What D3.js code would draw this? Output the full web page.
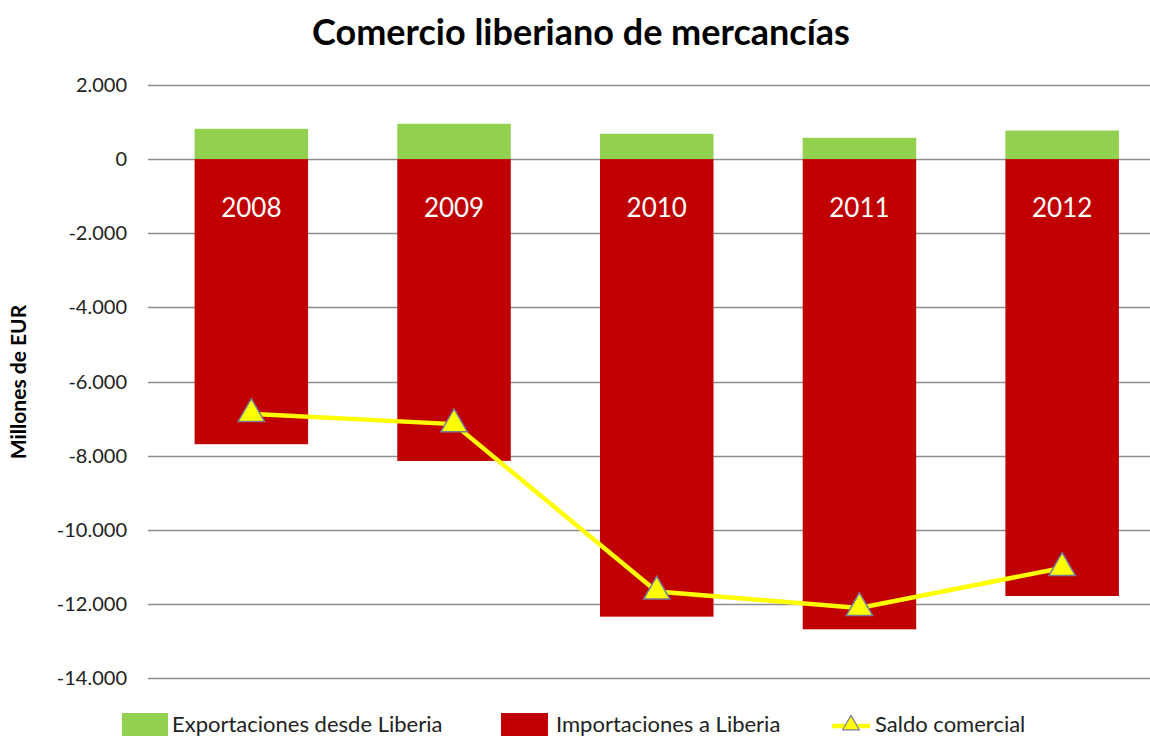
<!DOCTYPE html>
<html lang="es">
  <head>
    <meta charset="UTF-8" />
    <title>Comercio liberiano de mercancías</title>
    <style>
      body {
        margin: 0;
        background: #fff;
        font-family: Lato, "Open Sans", sans-serif;
      }
      .grid line {
        stroke: #8c8c8c;
        stroke-width: 1.5;
      }
      .ticks text {
        font-size: 20px;
        fill: #222;
        text-anchor: end;
      }
    </style>
  </head>
  <body>
    <svg width="1150" height="736"></svg>
  </body>
  <script src="https://cdn.jsdelivr.net/npm/d3@7"></script>
  <script>
    let years = ["2008", "2009", "2010", "2011", "2012"];
    let exportsEUR = [818, 953, 683, 575, 772];
    let importsEUR = [-7692, -8143, -12345, -12686, -11787];
    let balanceEUR = [-6874, -7150, -11665, -12110, -11030];
    let yTicks = [2000, 0, -2000, -4000, -6000, -8000, -10000, -12000, -14000];

    let svg = d3.select("svg");

    let x = d3.scaleBand()
      .domain(years)
      .range([150, 1163.5])
      .paddingInner(0.44)
      .paddingOuter(0.22);
    let y = d3.scaleLinear().domain([-14000, 2000]).range([678, 85]);

    let fmt = d3.formatLocale({
      decimal: ",",
      thousands: ".",
      grouping: [3],
      currency: ["", " €"],
      minus: "-",
    }).format(",d");

    // gridlines
    svg.append("g")
      .attr("class", "grid")
      .selectAll("line")
      .data(yTicks)
      .join("line")
      .attr("x1", 148)
      .attr("x2", 1150)
      .attr("y1", (d) => Math.round(y(d)) + 0.5)
      .attr("y2", (d) => Math.round(y(d)) + 0.5);

    svg.append("g")
      .attr("class", "ticks")
      .selectAll("text")
      .data(yTicks)
      .join("text")
      .attr("x", 127)
      .attr("y", (d) => y(d))
      .attr("dy", "0.35em")
      .text((d) => fmt(d));

    // bars
    svg.append("g")
      .selectAll("rect")
      .data(years)
      .join("rect")
      .attr("x", (d) => x(d))
      .attr("width", x.bandwidth())
      .attr("y", (_, i) => y(exportsEUR[i]))
      .attr("height", (_, i) => y(0) - y(exportsEUR[i]))
      .attr("fill", "#92d050");

    svg.append("g")
      .selectAll("rect")
      .data(years)
      .join("rect")
      .attr("x", (d) => x(d))
      .attr("width", x.bandwidth())
      .attr("y", y(0))
      .attr("height", (_, i) => y(importsEUR[i]) - y(0))
      .attr("fill", "#c00000");

    // year labels inside bars
    svg.append("g")
      .selectAll("text")
      .data(years)
      .join("text")
      .attr("x", (d) => x(d) + x.bandwidth() / 2)
      .attr("y", 208)
      .attr("dy", "0.35em")
      .attr("text-anchor", "middle")
      .attr("fill", "#fff")
      .attr("font-size", 26)
      .text((d) => d);

    // balance line
    let cx = (i) => x(years[i]) + x.bandwidth() / 2;
    let line = d3.line()
      .x((_, i) => cx(i))
      .y((d) => y(d));

    svg.append("path")
      .datum(balanceEUR)
      .attr("d", line)
      .attr("fill", "none")
      .attr("stroke", "#ffff00")
      .attr("stroke-width", 4.5);

    let tri = d3.symbol().type(d3.symbolTriangle).size(300);
    svg.append("g")
      .selectAll("path")
      .data(balanceEUR)
      .join("path")
      .attr("transform", (d, i) => `translate(${cx(i)},${y(d)})`)
      .attr("d", tri)
      .attr("fill", "#ffff00")
      .attr("stroke", "#7a7a9a")
      .attr("stroke-width", 1.5);

    // title
    svg.append("text")
      .attr("x", 581)
      .attr("y", 32)
      .attr("dy", "0.35em")
      .attr("text-anchor", "middle")
      .attr("font-size", 36)
      .attr("font-weight", "bold")
      .attr("fill", "#000")
      .text("Comercio liberiano de mercancías");

    svg.append("text")
      .attr("transform", "translate(19,382) rotate(-90)")
      .attr("dy", "0.35em")
      .attr("text-anchor", "middle")
      .attr("font-size", 21)
      .attr("font-weight", "bold")
      .attr("fill", "#000")
      .text("Millones de EUR");

    // legend
    let legend = svg.append("g").attr("transform", "translate(0,724)");
    legend.append("rect").attr("x", 122).attr("y", -11).attr("width", 46).attr("height", 30).attr("fill", "#92d050");
    legend.append("text").attr("x", 172).attr("dy", "0.35em").attr("font-size", 22).attr("fill", "#222").text("Exportaciones desde Liberia");
    legend.append("rect").attr("x", 501).attr("y", -11).attr("width", 47).attr("height", 30).attr("fill", "#c00000");
    legend.append("text").attr("x", 556).attr("dy", "0.35em").attr("font-size", 22).attr("fill", "#222").text("Importaciones a Liberia");
    legend.append("line").attr("x1", 832).attr("x2", 870).attr("y1", 2).attr("y2", 2).attr("stroke", "#ffff00").attr("stroke-width", 4.5);
    legend.append("path")
      .attr("transform", "translate(851,1)")
      .attr("d", d3.symbol().type(d3.symbolTriangle).size(120))
      .attr("fill", "#ffff00")
      .attr("stroke", "#7a7a9a")
      .attr("stroke-width", 1.2);
    legend.append("text").attr("x", 875).attr("dy", "0.35em").attr("font-size", 22).attr("fill", "#222").text("Saldo comercial");
  </script>
</html>
